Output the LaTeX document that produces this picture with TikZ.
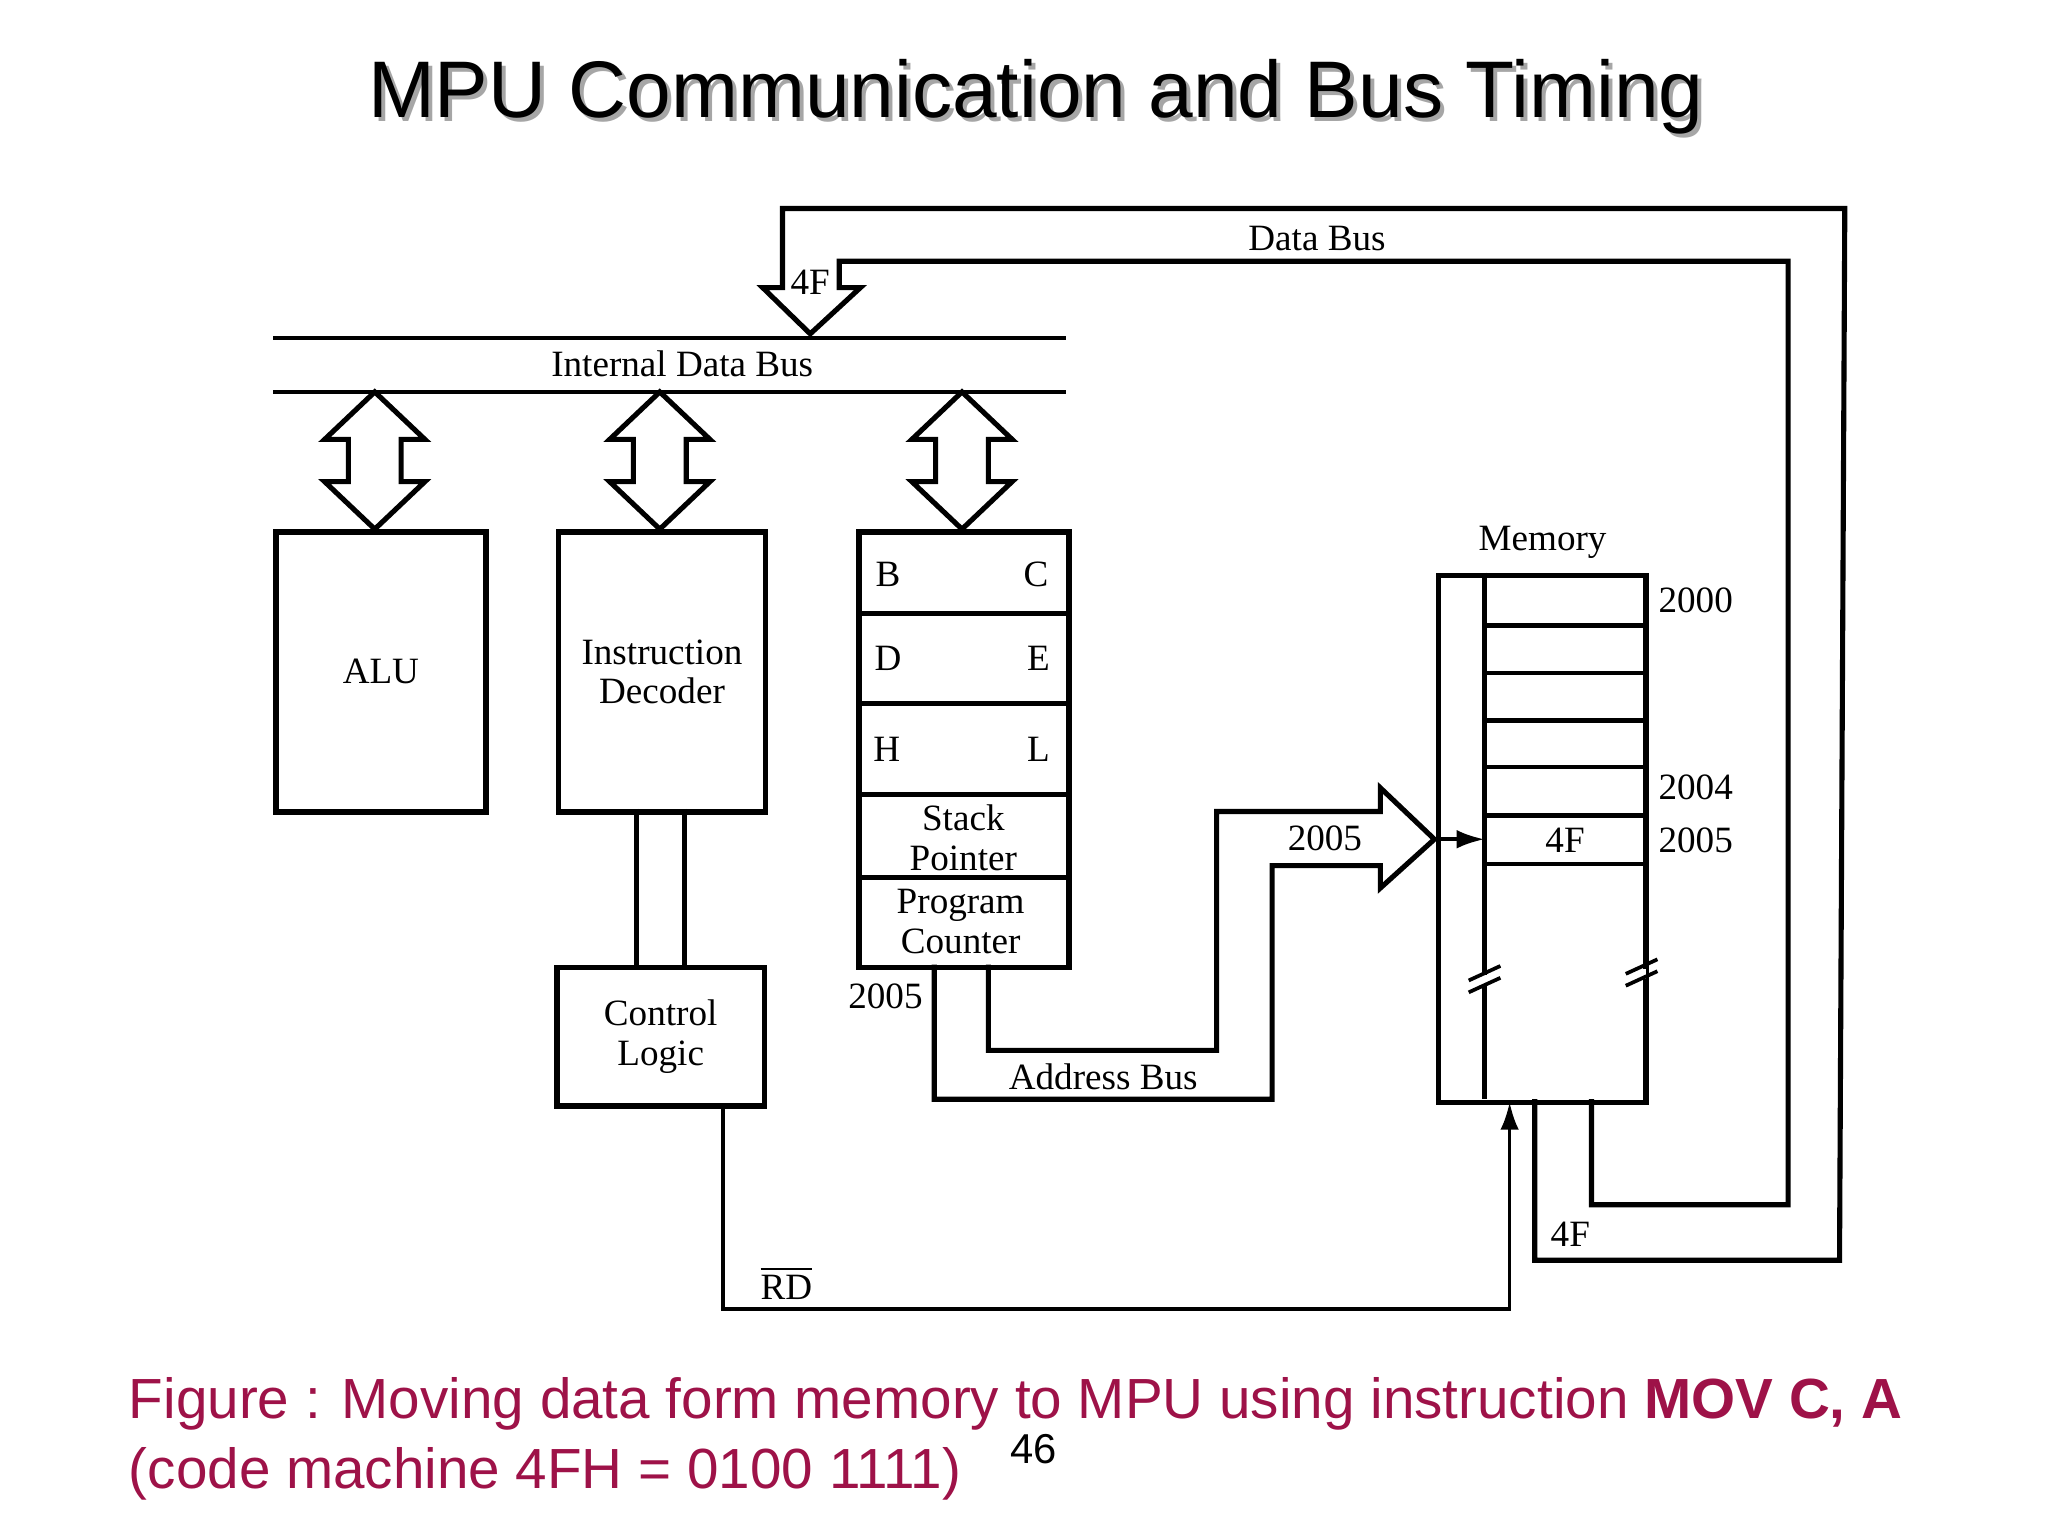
\documentclass[tikz,border=0pt]{standalone}
\usepackage{fontspec}
\setmainfont{Liberation Serif}
\setsansfont{Liberation Sans}
\usetikzlibrary{arrows.meta}
\definecolor{cap}{RGB}{158,18,72}
\begin{document}
\begin{tikzpicture}[x=0.01cm,y=-0.01cm,
  box/.style={draw,line width=1.2pt,anchor=north west,inner sep=0pt,align=center,font=\fontsize{8}{8.6}\selectfont},
  lbl/.style={font=\fontsize{8}{8.6}\selectfont,inner sep=1pt},
  bus/.style={line width=0.9pt},
  fat/.style={line width=1.1pt,line join=miter}]
\useasboundingbox (0,0) rectangle (1552,1164);
% title
\node[font=\fontsize{17.3}{20}\sffamily,text=gray!70] at (788,76) {MPU Communication and Bus Timing};
\node[font=\fontsize{17.3}{20}\sffamily] (title) at (785,73) {MPU Communication and Bus Timing};
% internal data bus
\coordinate (ib1a) at (207,256); \coordinate (ib1b) at (808,256);
\coordinate (ib2a) at (207,297); \coordinate (ib2b) at (808,297);
\draw[bus] (ib1a) -- (ib1b);
\draw[bus] (ib2a) -- (ib2b);
\node[lbl] (idb) at (517,276) {Internal Data Bus};
% boxes
\node[box,minimum width=1.59cm,minimum height=2.12cm] (alu) at (207,401) {ALU};
\node[box,minimum width=1.57cm,minimum height=2.12cm] (dec) at (421,401) {Instruction\\Decoder};
\node[box,minimum width=1.57cm,minimum height=1.05cm] (ctl) at (420,731) {Control\\Logic};
\node[box,minimum width=1.59cm,minimum height=3.30cm] (reg) at (649,401) {};
\node[box,minimum width=1.57cm,minimum height=3.99cm] (mem) at (1088,434) {};
% register rows
\foreach \yy in {465,533,602,665} \draw[line width=1.1pt] (649,\yy) -- (808,\yy);
\node[lbl] (rb) at (673,435) {B}; \node[lbl] (rc) at (785,435) {C};
\node[lbl] (rd) at (673,499) {D}; \node[lbl] (re) at (787,499) {E};
\node[lbl] (rh) at (672,568) {H}; \node[lbl] (rl) at (787,568) {L};
\node[lbl,align=center] (sp) at (730,635) {Stack\\Pointer};
\node[lbl,align=center] (pc) at (728,698) {Program\\Counter};
% double arrows
\foreach \cx/\nm in {284/a1,500/a2,729/a3}{
  \draw[fat] (\cx,297) -- (\cx+38,333) -- (\cx+20,333) -- (\cx+20,365) -- (\cx+38,365) -- (\cx,401)
   -- (\cx-38,365) -- (\cx-20,365) -- (\cx-20,333) -- (\cx-38,333) -- cycle;
}
% decoder to control
\draw[line width=1.1pt] (482,613) -- (482,731);
\draw[line width=1.1pt] (519,613) -- (519,731);
% memory internals
\draw[line width=0.9pt] (1125,434) -- (1125,833);
\foreach \yy in {474,510,546,581,618,655} \draw[line width=0.9pt] (1125,\yy) -- (1245,\yy);
\node[lbl] (mlab) at (1169,411) {Memory};
\node[lbl] (m4f) at (1186,637) {4F};
\node[lbl] (a2000) at (1285,455) {2000};
\node[lbl] (a2004) at (1285,597) {2004};
\node[lbl] (a2005) at (1285,637) {2005};
\foreach \xx/\yy in {1125/745,1244/740}{
  \fill[white] (\xx-3,\yy-6) rectangle (\xx+3,\yy+2);
  \draw[line width=0.8pt] (\xx-12,\yy-2) -- (\xx+12,\yy-13);
  \draw[line width=0.8pt] (\xx-12,\yy+7) -- (\xx+12,\yy-4);
}
\coordinate (mtip) at (1087,636);
\draw[-{Latex[length=6pt,width=4pt]},line width=0.8pt] (mtip) -- (1125,636);
% address bus
\draw[fat] (708,731) -- (708,833) -- (964,833) -- (964,656) -- (1046,656) -- (1046,673) -- (mtip)
   -- (1046,597) -- (1046,615) -- (922,615) -- (922,796) -- (749,796) -- (749,731);
\node[lbl] (ab) at (836,816) {Address Bus};
\node[lbl] (ab1) at (1004,635) {2005};
\node[lbl] (ab2) at (671,755) {2005};
% data bus
\coordinate (dtip) at (614,253);
\draw[fat] (1163,833) -- (1163,955) -- (1394,955) -- (1398,158) -- (593,158) -- (593,218) -- (578,218) -- (dtip)
   -- (652,218) -- (636,218) -- (636,198) -- (1355,198) -- (1355,913) -- (1206,913) -- (1206,833);
\node[lbl] (db) at (998,181) {Data Bus};
\node[lbl] (d4f) at (614,214) {4F};
\node[lbl] (m4f2) at (1190,935) {4F};
% RD
\draw[line width=0.8pt,-{Latex[length=6pt,width=4pt]}] (ctl.south -| 548,836) -- (548,992) -- (1144,992) -- (1144,835);
\node[lbl] (rdl) at (596,972) {$\overline{\mbox{RD}}$};
% caption
\node[anchor=base west,text=cap,font=\fontsize{12.2}{15}\sffamily,inner sep=0pt] (c1) at (97,1075) {Figure : Moving data form memory to MPU using instruction \textbf{MOV C, A}};
\node[anchor=base west,text=cap,font=\fontsize{12.2}{15}\sffamily,inner sep=0pt] (c2) at (97,1128) {(code machine 4FH = 0100 1111)};
\node[font=\fontsize{9}{10}\sffamily] (pg) at (783,1098) {46};
\end{tikzpicture}
\end{document}
